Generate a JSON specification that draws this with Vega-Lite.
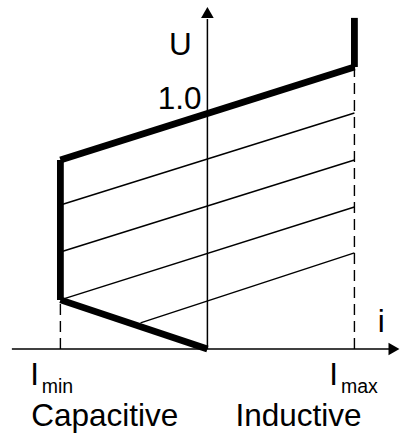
{
  "$schema": "https://vega.github.io/schema/vega-lite/v6.json",
  "width": 400,
  "height": 435,
  "padding": 0,
  "autosize": {"type": "fit", "contains": "padding"},
  "background": "white",
  "config": {"view": {"stroke": null}},
  "datasets": {
    "axes": [
      {"i1": -1.33, "u1": 0, "i2": 1.25, "u2": 0},
      {"i1": 0, "u1": 0, "i2": 0, "u2": 1.404}
    ],
    "arrows": [
      {"i": 0, "u": 1.432, "dir": "up"},
      {"i": 1.269, "u": 0, "dir": "right"}
    ],
    "dashed": [
      {"i1": -1, "u1": 0, "i2": -1, "u2": 0.209},
      {"i1": 1, "u1": 0, "i2": 1, "u2": 1.2}
    ],
    "thin": [
      {"i1": -1, "u1": 0.613, "i2": 1, "u2": 1.004},
      {"i1": -1, "u1": 0.413, "i2": 1, "u2": 0.804},
      {"i1": -1, "u1": 0.209, "i2": 1, "u2": 0.604},
      {"i1": -0.455, "u1": 0.111, "i2": 1, "u2": 0.409}
    ],
    "thick": [
      {"i1": 0, "u1": 0, "i2": -1, "u2": 0.209},
      {"i1": -1, "u1": 0.209, "i2": -1, "u2": 0.804},
      {"i1": -1, "u1": 0.804, "i2": 1, "u2": 1.2},
      {"i1": 1, "u1": 1.2, "i2": 1, "u2": 1.409}
    ],
    "labels": [
      {"t": "U", "i": -0.184, "u": 1.251},
      {"t": "1.0", "i": -0.189, "u": 1.021},
      {"t": "i", "i": 1.182, "u": 0.072},
      {"t": "I", "i": -1.175, "u": -0.153},
      {"t": "I", "i": 0.859, "u": -0.153},
      {"t": "Capacitive", "i": -0.698, "u": -0.326},
      {"t": "Inductive", "i": 0.62, "u": -0.326}
    ],
    "subs": [
      {"t": "min", "i": -1.02, "u": -0.189},
      {"t": "max", "i": 1.034, "u": -0.189}
    ]
  },
  "layer": [
    {
      "data": {"name": "dashed"},
      "mark": {"type": "rule", "color": "black", "strokeWidth": 1.4, "strokeDash": [11, 6]},
      "encoding": {
        "x": {"field": "i1", "type": "quantitative", "scale": {"domain": [-1.4108, 1.2828], "nice": false, "zero": false}, "axis": null},
        "y": {"field": "u1", "type": "quantitative", "scale": {"domain": [-0.366, 1.4851], "nice": false, "zero": false}, "axis": null},
        "x2": {"field": "i2"},
        "y2": {"field": "u2"}
      }
    },
    {
      "data": {"name": "axes"},
      "mark": {"type": "rule", "color": "black", "strokeWidth": 1.5},
      "encoding": {
        "x": {"field": "i1", "type": "quantitative"},
        "y": {"field": "u1", "type": "quantitative"},
        "x2": {"field": "i2"},
        "y2": {"field": "u2"}
      }
    },
    {
      "data": {"name": "thin"},
      "mark": {"type": "rule", "color": "black", "strokeWidth": 1.5},
      "encoding": {
        "x": {"field": "i1", "type": "quantitative"},
        "y": {"field": "u1", "type": "quantitative"},
        "x2": {"field": "i2"},
        "y2": {"field": "u2"}
      }
    },
    {
      "data": {"name": "thick"},
      "mark": {"type": "rule", "color": "black", "strokeWidth": 6.8, "strokeCap": "butt"},
      "encoding": {
        "x": {"field": "i1", "type": "quantitative"},
        "y": {"field": "u1", "type": "quantitative"},
        "x2": {"field": "i2"},
        "y2": {"field": "u2"}
      }
    },
    {
      "data": {"name": "arrows"},
      "mark": {"type": "point", "filled": true, "color": "black", "opacity": 1, "size": 160, "strokeWidth": 0},
      "encoding": {
        "x": {"field": "i", "type": "quantitative"},
        "y": {"field": "u", "type": "quantitative"},
        "shape": {"field": "dir", "type": "nominal", "scale": {"domain": ["up", "right"], "range": ["triangle-up", "triangle-right"]}, "legend": null}
      }
    },
    {
      "data": {"name": "labels"},
      "mark": {"type": "text", "font": "Liberation Sans", "fontSize": 31.5, "color": "black", "align": "center", "baseline": "alphabetic"},
      "encoding": {
        "x": {"field": "i", "type": "quantitative"},
        "y": {"field": "u", "type": "quantitative"},
        "text": {"field": "t"}
      }
    },
    {
      "data": {"name": "subs"},
      "mark": {"type": "text", "font": "Liberation Sans", "fontSize": 19.5, "color": "black", "align": "center", "baseline": "alphabetic"},
      "encoding": {
        "x": {"field": "i", "type": "quantitative"},
        "y": {"field": "u", "type": "quantitative"},
        "text": {"field": "t"}
      }
    }
  ]
}
